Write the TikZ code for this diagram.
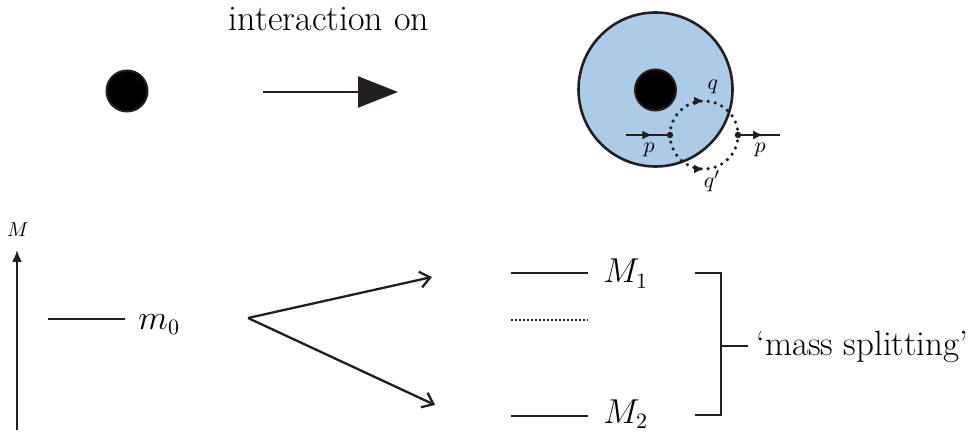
\documentclass[tikz,border=0pt]{standalone}
\usetikzlibrary{arrows.meta,decorations.markings}
\definecolor{bluefill}{RGB}{171,203,230}
\definecolor{ink}{RGB}{35,31,32}
\begin{document}
\begin{tikzpicture}[x=0.5pt,y=-0.5pt,
  bigtext/.style={font=\fontsize{18}{22}\selectfont, inner sep=0pt},
  splittext/.style={font=\fontsize{17.5}{21}\selectfont, inner sep=0pt},
  mathlab/.style={font=\fontsize{16}{19}\selectfont, inner sep=0pt},
  lab/.style={font=\fontsize{11}{13}\selectfont, inner sep=0pt},
  smalllab/.style={font=\fontsize{10}{12}\selectfont, inner sep=0pt},
  blackdot/.style={circle, fill=black, draw=ink, line width=1pt, minimum size=20.5pt, inner sep=0pt},
  vertex/.style={circle, fill=ink, minimum size=3.2pt, inner sep=0pt},
  prop/.style={draw=ink, line width=1.1pt, postaction={decorate},
    decoration={markings, mark=at position 0.6 with {\arrow[ink]{Latex[length=5pt,width=4.5pt]}}}},
  loopline/.style={draw=ink, line width=1.8pt, line cap=round, dash pattern=on 0pt off 3.6pt, postaction={decorate},
    decoration={markings, mark=at position 0.5 with {\arrow[ink]{Latex[length=5pt,width=4.5pt]}}}},
  level/.style={draw=ink, line width=1.15pt},
  splitarrow/.style={draw=ink, line width=1.15pt, -{Straight Barb[length=5pt,width=8pt]}}
]
\useasboundingbox (0,0) rectangle (978,432);

% top row
\node[bigtext, anchor=base] (inter) at (329,31) {interaction on};
\node[blackdot] (d1) at (127,91) {};
\coordinate (a1) at (263,92);
\coordinate (a2) at (398,92);
\draw[draw=ink, line width=1pt, -{Triangle[length=20pt,width=15.5pt]}] (a1) -- (a2);

\node[circle, draw=ink, fill=bluefill, line width=1.3pt, minimum size=77pt, inner sep=0pt] (blob) at (655.5,89.5) {};
\node[blackdot] (core) at (655.5,90) {};

\coordinate (lc) at (704,135);
\node[vertex] (vin) at (670,135) {};
\node[vertex] (vout) at (738,135) {};
\coordinate (pin) at (626,135);
\coordinate (pout) at (780,135);
\draw[prop] (pin) -- (vin.center);
\draw[prop] (vout.center) -- (pout);
\draw[loopline] (vin.center) arc[start angle=180, end angle=0, radius=17pt];
\draw[loopline] (vin.center) arc[start angle=180, end angle=360, radius=17pt];

\node[lab] (q) at (713,87) {$q$};
\node[lab] (qp) at (712,181) {$q'$};
\node[lab] (p1) at (649,150) {$p$};
\node[lab] (p2) at (760,150) {$p$};

% bottom row
\node[smalllab] (Mlab) at (18,230) {$M$};
\coordinate (ax0) at (17,430);
\coordinate (ax1) at (17,250);
\draw[draw=ink, line width=1pt, -{Latex[length=6pt,width=5pt]}] (ax0) -- (ax1);

\coordinate (m0a) at (48,319);
\coordinate (m0b) at (125,319);
\draw[level] (m0a) -- (m0b);
\node[mathlab, anchor=base west] (m0) at (138,329) {$m_0$};

\coordinate (s0) at (248,318);
\coordinate (s1) at (432,277);
\coordinate (s2) at (435,405);
\draw[splitarrow] (s0) -- (s1);
\draw[splitarrow] (s0) -- (s2);

\coordinate (M1a) at (511,273);
\coordinate (M1b) at (588,273);
\draw[level] (M1a) -- (M1b);
\node[mathlab, anchor=base west] (M1) at (603,283) {$M_1$};

\coordinate (Mda) at (511,320);
\coordinate (Mdb) at (588,320);
\draw[draw=ink, line width=1pt, dash pattern=on 1pt off 1pt] (Mda) -- (Mdb);

\coordinate (M2a) at (511,416);
\coordinate (M2b) at (588,416);
\draw[level] (M2a) -- (M2b);
\node[mathlab, anchor=base west] (M2) at (603,423) {$M_2$};

\coordinate (b1) at (695,273);
\coordinate (b2) at (721,273);
\coordinate (b3) at (721,415);
\coordinate (b4) at (695,415);
\coordinate (bm) at (721,346);
\coordinate (bt) at (748,346);
\draw[level] (b1) -- (b2) -- (b3) -- (b4);
\draw[level] (bm) -- (bt);
\node[splittext, anchor=west] (ms) at (756,347) {`mass splitting'};
\end{tikzpicture}
\end{document}
